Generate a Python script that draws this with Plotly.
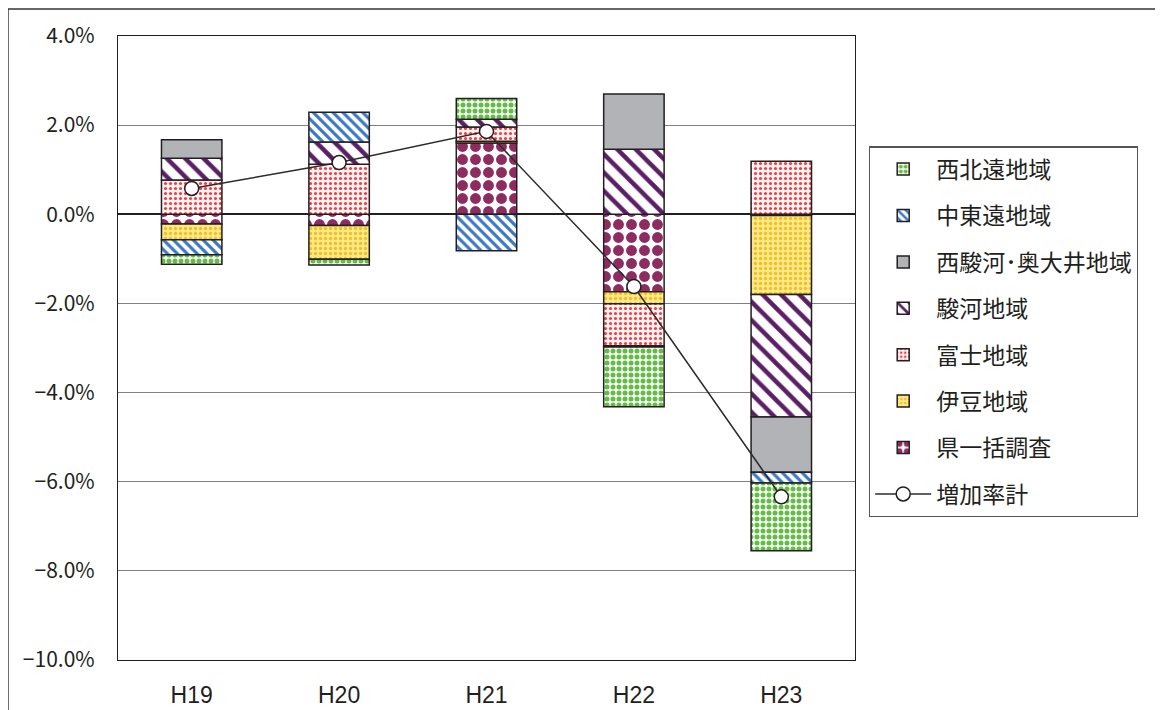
import plotly.graph_objects as go

categories = ["H19", "H20", "H21", "H22", "H23"]

ken_ikkatsu = [-0.22, -0.25, 1.60, -1.74, -0.03]   # 県一括調査
izu = [-0.35, -0.76, 0.04, -0.27, -1.77]            # 伊豆地域
fuji = [0.77, 1.12, 0.32, -0.94, 1.19]              # 富士地域
suruga = [0.49, 0.50, 0.17, 1.46, -2.75]            # 駿河地域
nishisuruga = [0.41, None, None, 1.24, -1.24]       # 西駿河・奥大井地域
chutoen = [-0.34, 0.67, -0.82, -0.03, -0.24]        # 中東遠地域
seihokuen = [-0.21, -0.13, 0.47, -1.34, -1.52]      # 西北遠地域
total = [0.58, 1.16, 1.86, -1.62, -6.34]            # 増加率計

FONT = "Noto Sans CJK JP"
EDGE = dict(color="#231f20", width=1.5)
BW = 0.41

series = [
    ("県一括調査", ken_ikkatsu, dict(shape=".", fgcolor="#8e2c60", bgcolor="#ffffff", size=13, solidity=0.55), 7),
    ("伊豆地域", izu, dict(shape=".", fgcolor="#f2c21a", bgcolor="#fbe98f", size=5, solidity=0.35), 6),
    ("富士地域", fuji, dict(shape=".", fgcolor="#ef3e42", bgcolor="#fff3f3", size=5, solidity=0.3), 5),
    ("駿河地域", suruga, dict(shape="\\", fgcolor="#5b1f66", bgcolor="#ffffff", size=13, solidity=0.35), 4),
    ("西駿河･奥大井地域", nishisuruga, None, 3),
    ("中東遠地域", chutoen, dict(shape="\\", fgcolor="#3a78c4", bgcolor="#ffffff", size=7, solidity=0.45), 2),
    ("西北遠地域", seihokuen, dict(shape=".", fgcolor="#63bd45", bgcolor="#ffffff", size=6, solidity=0.55), 1),
]

fig = go.Figure()
for name, vals, pat, rank in series:
    marker = dict(line=EDGE)
    if pat is None:
        marker["color"] = "#b1b3b6"
    else:
        marker["color"] = pat["bgcolor"]
        marker["pattern"] = dict(fillmode="replace", **pat)
    fig.add_trace(go.Bar(
        x=categories, y=vals, name=name, width=BW, marker=marker,
        legendrank=rank, legendgroup=name,
    ))

fig.add_trace(go.Scatter(
    x=categories, y=total, name="増加率計", mode="lines+markers",
    line=dict(color="#2b2b2b", width=1.5),
    marker=dict(symbol="circle", size=14, color="#ffffff", line=dict(color="#231f20", width=1.5)),
    legendrank=8, legendgroup="増加率計",
))

# page body has an 8px margin, so margins are shifted accordingly
fig.update_layout(
    width=1163, height=710,
    margin=dict(l=110, r=316, t=28, b=58, autoexpand=False),
    barmode="relative",
    paper_bgcolor="#ffffff", plot_bgcolor="#ffffff",
    font=dict(family=FONT, color="#231f20", size=20),
    showlegend=True,
    legend=dict(
        x=1.019, y=0.823, xanchor="left", yanchor="top",
        bordercolor="#555555", borderwidth=1.2, bgcolor="#ffffff",
        font=dict(family=FONT, size=23, color="#231f20"),
        tracegroupgap=13.5, itemwidth=56,
    ),
    xaxis=dict(
        type="category", range=[-0.5, 4.5], automargin=False,
        showline=True, mirror=True, linecolor="#231f20", linewidth=1.3,
        ticks="", showgrid=False,
        tickfont=dict(family="Liberation Sans", size=23), ticklabelstandoff=14,
    ),
    xaxis2=dict(
        overlaying="x", anchor="free", position=10 / 14, side="bottom",
        range=[-0.5, 4.5], showgrid=False, showline=False, zeroline=False,
        automargin=False,
        ticks="inside", tickvals=[0.5, 1.5, 2.5, 3.5], ticklen=9,
        tickcolor="#777777", tickwidth=1.5, showticklabels=False,
    ),
    yaxis=dict(
        range=[-10, 4], dtick=2, tickformat=".1f", ticksuffix="%",
        automargin=False,
        showline=True, mirror=True, linecolor="#231f20", linewidth=1.3,
        showgrid=True, gridcolor="#808080", gridwidth=1,
        zeroline=True, zerolinecolor="#231f20", zerolinewidth=1.5,
        ticks="", tickfont=dict(family=FONT, size=21), ticklabelstandoff=18,
    ),
    shapes=[
        dict(type="line", xref="paper", yref="paper", x0=-0.1493, x1=1.45,
             y0=1.0433, y1=1.0433, line=dict(color="#333333", width=1.5)),
        dict(type="line", xref="paper", yref="paper", x0=-0.1493, x1=-0.1493,
             y0=1.0433, y1=-0.12, line=dict(color="#333333", width=1.5)),
    ],
)

fig.write_html("out.html")
